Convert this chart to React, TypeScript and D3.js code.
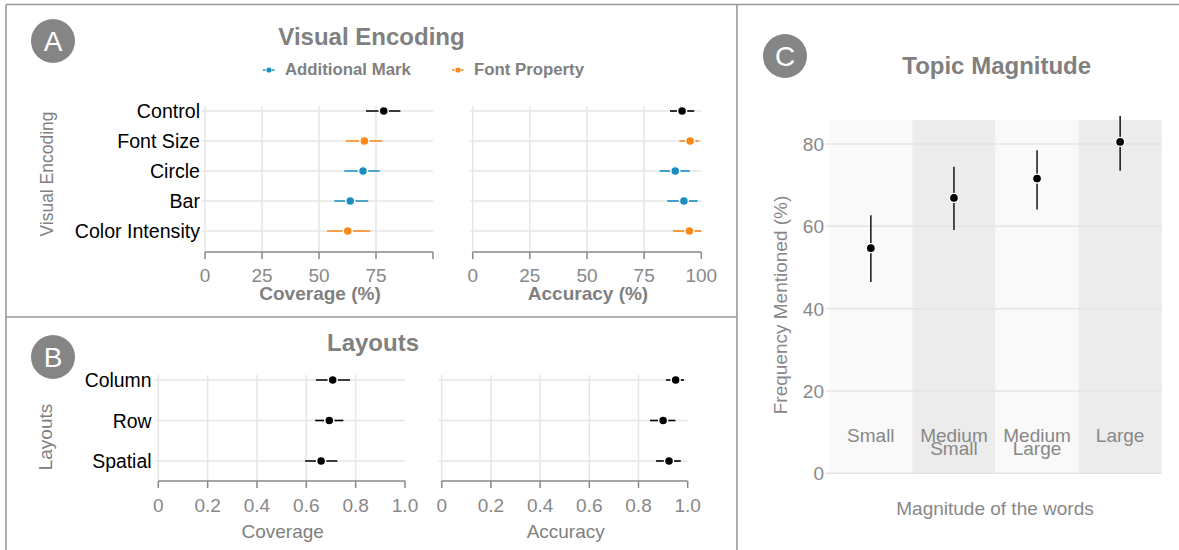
import React from 'react';
import * as d3 from 'd3';

// ---------- Data ----------
const encCategories = ['Control', 'Font Size', 'Circle', 'Bar', 'Color Intensity'];
const encGroup = ['control', 'font', 'mark', 'mark', 'font'];
const encCoverageMean = [78.4, 69.9, 69.3, 63.7, 62.6];
const encCoverageLow = [70.6, 61.8, 61.1, 56.7, 53.5];
const encCoverageHigh = [85.7, 77.8, 76.6, 71.6, 72.5];
const encAccuracyMean = [91.6, 95.1, 88.6, 92.4, 94.8];
const encAccuracyLow = [86.3, 90.4, 81.8, 85.1, 87.6];
const encAccuracyHigh = [96.9, 98.9, 94.9, 98.4, 100];
const encTicks = [0, 25, 50, 75, 100];
const legendLabels = ['Additional Mark', 'Font Property'];

const layoutCategories = ['Column', 'Row', 'Spatial'];
const layoutCoverageMean = [0.707, 0.693, 0.66];
const layoutCoverageLow = [0.639, 0.636, 0.595];
const layoutCoverageHigh = [0.777, 0.75, 0.726];
const layoutAccuracyMean = [0.951, 0.9, 0.924];
const layoutAccuracyLow = [0.912, 0.847, 0.871];
const layoutAccuracyHigh = [0.985, 0.95, 0.972];
const layoutTicks = [0, 0.2, 0.4, 0.6, 0.8, 1.0];

const magCategories = ['Small', 'Medium Small', 'Medium Large', 'Large'];
const magLabelLines = [['Small'], ['Medium', 'Small'], ['Medium', 'Large'], ['Large']];
const magMean = [54.7, 66.9, 71.6, 80.5];
const magLow = [46.5, 59.1, 64.1, 73.5];
const magHigh = [62.7, 74.5, 78.5, 86.8];
const magTicks = [0, 20, 40, 60, 80];

// ---------- Styles ----------
const FONT = "'Liberation Sans', Arial, Helvetica, sans-serif";
const GREY = '#808080';
const TICK_GREY = '#888888';
const GRID = '#e6e6e6';
const BORDER = '#999999';
const groupColor: Record<string, string> = { control: '#000000', mark: '#1a8dc3', font: '#fa8716' };

type IntervalProps = {
  cats: string[];
  mean: number[];
  low: number[];
  high: number[];
  colors: string[];
  x: d3.ScaleLinear<number, number>;
  y: d3.ScalePoint<string>;
  ticks: number[];
  fmt: (d: number) => string;
  axisY: number;
  gridTop: number;
  title: string;
  titleBold: boolean;
  titleY: number;
  tickLabelY: number;
  labelX?: number;
  labelSize?: number;
  hideLastTickLabel?: boolean;
};

function IntervalPanel(p: IntervalProps) {
  const [x0, x1] = p.x.range();
  return (
    <g>
      {p.ticks.slice(0, -1).map((t) => (
        <line key={'vg' + t} x1={p.x(t)} x2={p.x(t)} y1={p.gridTop} y2={p.axisY} stroke={GRID} strokeWidth={1.5} />
      ))}
      {p.cats.map((c) => (
        <line key={'hg' + c} x1={x0 - 3} x2={x1} y1={p.y(c)} y2={p.y(c)} stroke={GRID} strokeWidth={1.5} />
      ))}
      <line x1={x0} x2={x1} y1={p.axisY} y2={p.axisY} stroke={TICK_GREY} strokeWidth={1.5} />
      {p.ticks.map((t, i) => (
        <g key={'t' + t}>
          <line x1={p.x(t)} x2={p.x(t)} y1={p.axisY} y2={p.axisY + 7} stroke={TICK_GREY} strokeWidth={1.5} />
          {!(p.hideLastTickLabel && i === p.ticks.length - 1) && (
            <text x={p.x(t)} y={p.tickLabelY} textAnchor="middle" fontSize={19} fill={TICK_GREY} fontFamily={FONT}>
              {p.fmt(t)}
            </text>
          )}
        </g>
      ))}
      <text
        x={(x0 + x1) / 2 + 1}
        y={p.titleY}
        textAnchor="middle"
        fontSize={19}
        fontWeight={p.titleBold ? 'bold' : 'normal'}
        fill={GREY}
        fontFamily={FONT}
      >
        {p.title}
      </text>
      {p.labelX !== undefined &&
        p.cats.map((c) => (
          <text
            key={'l' + c}
            x={p.labelX}
            y={(p.y(c) as number) + 7}
            textAnchor="end"
            fontSize={p.labelSize ?? 19}
            fill="#000"
            fontFamily={FONT}
          >
            {c}
          </text>
        ))}
      {p.cats.map((c, i) => (
        <g key={'m' + c}>
          <line x1={p.x(p.low[i])} x2={p.x(p.high[i])} y1={p.y(c)} y2={p.y(c)} stroke={p.colors[i]} strokeWidth={1.6} />
          <circle cx={p.x(p.mean[i])} cy={p.y(c)} r={4.5} fill={p.colors[i]} stroke="#fff" strokeWidth={1.5} />
        </g>
      ))}
    </g>
  );
}

function Badge({ cx, cy, letter }: { cx: number; cy: number; letter: string }) {
  return (
    <g>
      <circle cx={cx} cy={cy} r={22} fill="#858585" />
      <text x={cx} y={cy + 10} textAnchor="middle" fontSize={28} fill="#fff" fontFamily={FONT}>
        {letter}
      </text>
    </g>
  );
}

export default function App() {
  const encColors = encGroup.map((g) => groupColor[g]);
  const yA = d3.scalePoint<string>().domain(encCategories).range([111, 231]);
  const xACov = d3.scaleLinear().domain([0, 100]).range([205, 433]);
  const xAAcc = d3.scaleLinear().domain([0, 100]).range([472.7, 701.3]);

  const yB = d3.scalePoint<string>().domain(layoutCategories).range([380, 461]);
  const xBCov = d3.scaleLinear().domain([0, 1]).range([158.3, 405]);
  const xBAcc = d3.scaleLinear().domain([0, 1]).range([441.7, 687.7]);
  const fmtB = (d: number) => (d === 0 ? '0' : d.toFixed(1));

  const xC = d3.scaleBand<string>().domain(magCategories).range([829.3, 1161.7]).padding(0);
  const yC = d3.scaleLinear().domain([0, 80]).range([473.3, 144]);
  const plotTopC = 120;

  return (
    <svg width={1179} height={550} style={{ position: 'absolute', left: 0, top: 0, background: '#fff' }} fontFamily={FONT}>
      <rect x={0} y={0} width={1179} height={550} fill="#fff" />
      <line x1={6} x2={1179} y1={4.5} y2={4.5} stroke={BORDER} strokeWidth={1.6} />
      <line x1={6} x2={6} y1={4.5} y2={550} stroke={BORDER} strokeWidth={1.6} />
      <line x1={737} x2={737} y1={4.5} y2={550} stroke={BORDER} strokeWidth={1.6} />
      <line x1={6} x2={737} y1={317} y2={317} stroke={BORDER} strokeWidth={1.6} />

      {/* ===== Panel A ===== */}
      <Badge cx={53} cy={41} letter="A" />
      <text x={371.5} y={45} textAnchor="middle" fontSize={24} fontWeight="bold" fill={GREY}>
        Visual Encoding
      </text>
      {[
        { label: legendLabels[0], color: groupColor.mark, x: 263 },
        { label: legendLabels[1], color: groupColor.font, x: 452 },
      ].map((l) => (
        <g key={l.label}>
          <line x1={l.x} x2={l.x + 12} y1={70} y2={70} stroke={l.color} strokeWidth={1.5} strokeDasharray="2.5,2" />
          <circle cx={l.x + 6} cy={70} r={2.6} fill={l.color} />
          <text x={l.x + 22} y={74.5} fontSize={16.8} fontWeight="bold" fill={GREY}>
            {l.label}
          </text>
        </g>
      ))}
      <text transform="translate(52.7,174) rotate(-90)" textAnchor="middle" fontSize={17.5} fill={GREY}>
        Visual Encoding
      </text>
      <IntervalPanel
        cats={encCategories}
        mean={encCoverageMean}
        low={encCoverageLow}
        high={encCoverageHigh}
        colors={encColors}
        x={xACov}
        y={yA}
        ticks={encTicks}
        fmt={(d) => String(d)}
        axisY={252}
        gridTop={106}
        title="Coverage (%)"
        titleBold={true}
        titleY={300}
        tickLabelY={281.5}
        labelX={200}
        labelSize={19.6}
        hideLastTickLabel={true}
      />
      <IntervalPanel
        cats={encCategories}
        mean={encAccuracyMean}
        low={encAccuracyLow}
        high={encAccuracyHigh}
        colors={encColors}
        x={xAAcc}
        y={yA}
        ticks={encTicks}
        fmt={(d) => String(d)}
        axisY={252}
        gridTop={106}
        title="Accuracy (%)"
        titleBold={true}
        titleY={300}
        tickLabelY={281.5}
      />

      {/* ===== Panel B ===== */}
      <Badge cx={53} cy={357} letter="B" />
      <text x={373} y={351} textAnchor="middle" fontSize={24} fontWeight="bold" fill={GREY}>
        Layouts
      </text>
      <text transform="translate(51.7,437) rotate(-90)" textAnchor="middle" fontSize={19} fill={GREY}>
        Layouts
      </text>
      <IntervalPanel
        cats={layoutCategories}
        mean={layoutCoverageMean}
        low={layoutCoverageLow}
        high={layoutCoverageHigh}
        colors={layoutCategories.map(() => '#000')}
        x={xBCov}
        y={yB}
        ticks={layoutTicks}
        fmt={fmtB}
        axisY={481}
        gridTop={375}
        title="Coverage"
        titleBold={false}
        titleY={538}
        tickLabelY={512}
        labelX={151.5}
        labelSize={19.4}
      />
      <IntervalPanel
        cats={layoutCategories}
        mean={layoutAccuracyMean}
        low={layoutAccuracyLow}
        high={layoutAccuracyHigh}
        colors={layoutCategories.map(() => '#000')}
        x={xBAcc}
        y={yB}
        ticks={layoutTicks}
        fmt={fmtB}
        axisY={481}
        gridTop={375}
        title="Accuracy"
        titleBold={false}
        titleY={538}
        tickLabelY={512}
      />

      {/* ===== Panel C ===== */}
      <Badge cx={785} cy={56} letter="C" />
      <text x={996.7} y={74} textAnchor="middle" fontSize={24} fontWeight="bold" fill={GREY}>
        Topic Magnitude
      </text>
      {magCategories.map((c, i) => (
        <rect
          key={'bg' + c}
          x={xC(c)}
          y={plotTopC}
          width={xC.bandwidth()}
          height={yC(0) - plotTopC}
          fill={i % 2 === 0 ? '#f9f9f9' : '#ececec'}
        />
      ))}
      {magTicks.map((t) => (
        <g key={'cy' + t}>
          <line x1={825.5} x2={xC.range()[1]} y1={yC(t)} y2={yC(t)} stroke="#e4e4e4" strokeWidth={1.5} />
          <text x={824} y={yC(t) + 7} textAnchor="end" fontSize={19} fill={TICK_GREY}>
            {t}
          </text>
        </g>
      ))}
      {magCategories.map((c, i) => (
        <text key={'cl' + c} textAnchor="middle" fontSize={19} fill={TICK_GREY}>
          {magLabelLines[i].map((ln, j) => (
            <tspan key={j} x={(xC(c) as number) + xC.bandwidth() / 2} y={441.7 + j * 13.3}>
              {ln}
            </tspan>
          ))}
        </text>
      ))}
      {magCategories.map((c, i) => {
        const cx = (xC(c) as number) + xC.bandwidth() / 2;
        return (
          <g key={'cm' + c}>
            <line x1={cx} x2={cx} y1={yC(magLow[i])} y2={yC(magHigh[i])} stroke="#222" strokeWidth={1.6} />
            <circle cx={cx} cy={yC(magMean[i])} r={4.5} fill="#000" stroke="#fff" strokeWidth={1.3} />
          </g>
        );
      })}
      <text x={995} y={515} textAnchor="middle" fontSize={19} fill={TICK_GREY}>
        Magnitude of the words
      </text>
      <text transform="translate(787,305) rotate(-90)" textAnchor="middle" fontSize={19} fill={TICK_GREY}>
        Frequency Mentioned (%)
      </text>
    </svg>
  );
}
